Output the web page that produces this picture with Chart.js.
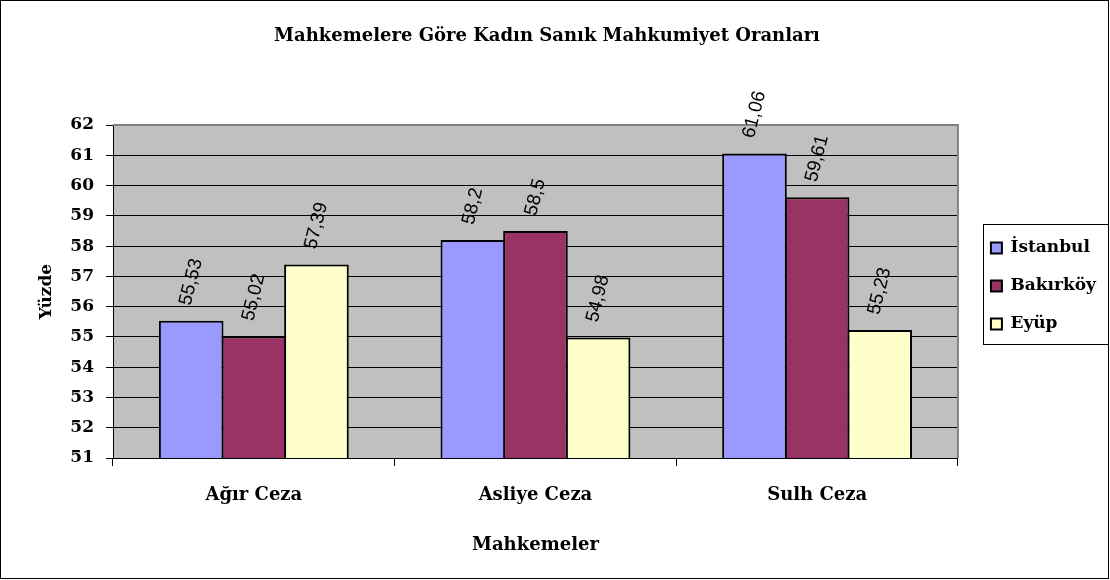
<!DOCTYPE html>
<html>
<head>
<meta charset="utf-8">
<script src="https://cdn.jsdelivr.net/npm/chart.js@4.4.1/dist/chart.umd.min.js"></script>
<style>
  html, body { margin: 0; padding: 0; background: #ffffff; }
  #wrap { width: 1110px; height: 580px; position: relative; }
</style>
</head>
<body>
<div id="wrap"><canvas id="c" width="1110" height="580"></canvas></div>
<script>
const categories = ['Ağır Ceza', 'Asliye Ceza', 'Sulh Ceza'];
const seriesNames = ['İstanbul', 'Bakırköy', 'Eyüp'];
const istanbul = [55.53, 58.2, 61.06];
const bakirkoy = [55.02, 58.5, 59.61];
const eyup = [57.39, 54.98, 55.23];
const seriesColors = ['#9999FF', '#993366', '#FFFFCC'];
const yMin = 51, yMax = 62, yStep = 1;

const serif = '"DejaVu Serif", "Liberation Serif", serif';
const LEG_PAD = 21;

const plotDecor = {
  id: 'plotDecor',
  beforeDraw(chart) {
    const {ctx, chartArea: a} = chart;
    ctx.save();
    ctx.fillStyle = '#C0C0C0';
    ctx.fillRect(a.left, a.top, a.right - a.left, a.bottom - a.top);
    ctx.restore();
  },
  beforeDatasetsDraw(chart) {
    const {ctx, chartArea: a} = chart;
    ctx.save();
    ctx.strokeStyle = '#808080';
    ctx.lineWidth = 2;
    ctx.beginPath();
    ctx.moveTo(a.left, a.top);
    ctx.lineTo(a.right, a.top);
    ctx.lineTo(a.right, a.bottom);
    ctx.stroke();
    ctx.restore();
  },
  afterLayout(chart) {
    const lg = chart.legend;
    if (!lg) return;
    lg.left += 12; lg.right += 12;
    lg.top -= 4; lg.bottom -= 4;
  },
  afterDatasetsDraw(chart) {
    const {ctx} = chart;
    ctx.save();
    ctx.font = '19px "Liberation Sans", Arial, sans-serif';
    ctx.fillStyle = '#000';
    ctx.textAlign = 'center';
    ctx.textBaseline = 'middle';
    const ang = 76 * Math.PI / 180;
    chart.data.datasets.forEach((ds, di) => {
      const meta = chart.getDatasetMeta(di);
      meta.data.forEach((el, i) => {
        const txt = String(ds.data[i]).replace('.', ',');
        const w = ctx.measureText(txt).width;
        const halfV = (w * Math.sin(ang) + 15 * Math.cos(ang)) / 2;
        ctx.save();
        ctx.translate(el.x, el.y - 14 - halfV);
        ctx.rotate(-ang);
        ctx.fillText(txt, 0, 0);
        ctx.restore();
      });
    });
    ctx.restore();
  },
  afterDraw(chart) {
    const {ctx} = chart;
    const lg = chart.legend;
    ctx.save();
    ctx.strokeStyle = '#000';
    ctx.lineWidth = 1;
    if (lg) {
      const colH = lg.columnSizes[0].height;
      const startY = ((lg.top + LEG_PAD) + (lg.bottom - colH)) / 2;
      const x0 = lg.left + LEG_PAD - 8;
      const y0 = startY - 16;
      ctx.strokeRect(Math.round(x0) + 0.5, Math.round(y0) + 0.5, 1108 - Math.round(x0), colH - LEG_PAD + 27);
    }
    ctx.strokeRect(0.5, 0.5, 1108, 578);
    ctx.restore();
  }
};

const datasets = [istanbul, bakirkoy, eyup].map((vals, k) => ({
  label: seriesNames[k],
  data: vals,
  backgroundColor: seriesColors[k],
  borderColor: '#000000',
  borderWidth: 2,
  borderSkipped: false,
  categoryPercentage: 0.667,
  barPercentage: 1.032
}));

new Chart(document.getElementById('c'), {
  type: 'bar',
  data: { labels: categories, datasets },
  plugins: [plotDecor],
  options: {
    responsive: false,
    animation: false,
    devicePixelRatio: 1,
    layout: { padding: { left: 0, right: 16, top: 0, bottom: 0 } },
    plugins: {
      tooltip: { enabled: false },
      title: {
        display: true,
        text: 'Mahkemelere Göre Kadın Sanık Mahkumiyet Oranları',
        color: '#000',
        font: { family: serif, size: 18, weight: 'bold', lineHeight: 1.2 },
        padding: { top: 26, bottom: 77.4 }
      },
      legend: {
        position: 'right',
        align: 'center',
        labels: {
          color: '#000',
          boxWidth: 11,
          boxHeight: 11,
          padding: LEG_PAD,
          font: { family: serif, size: 17, weight: 'bold', lineHeight: '17px' }
        }
      }
    },
    scales: {
      x: {
        grid: {
          display: true,
          drawOnChartArea: false,
          offset: true,
          color: '#000',
          tickLength: 8,
          tickColor: '#000'
        },
        border: { display: true, color: '#000', width: 1 },
        ticks: {
          color: '#000',
          padding: 19,
          font: { family: serif, size: 18, weight: 'bold', lineHeight: 1.2 }
        },
        title: {
          display: true,
          text: 'Mahkemeler',
          color: '#000',
          font: { family: serif, size: 18, weight: 'bold', lineHeight: 1.2 },
          padding: { top: 8.6, bottom: 24.2 }
        }
      },
      y: {
        min: yMin,
        max: yMax,
        afterFit(scale) { scale.width = 113; },
        grid: {
          color: (c) => (c.tick && c.tick.value === yMax) ? '#808080' : '#000',
          lineWidth: 1,
          tickLength: 7,
          tickColor: '#000'
        },
        border: { display: true, color: '#000', width: 1 },
        ticks: {
          stepSize: yStep,
          color: '#000',
          padding: 12,
          font: { family: serif, size: 17, weight: 'bold' }
        },
        title: {
          display: true,
          text: 'Yüzde',
          color: '#000',
          font: { family: serif, size: 17, weight: 'bold', lineHeight: 1.2 },
          padding: { top: 36.8, bottom: 0 }
        }
      }
    }
  }
});
</script>
</body>
</html>
